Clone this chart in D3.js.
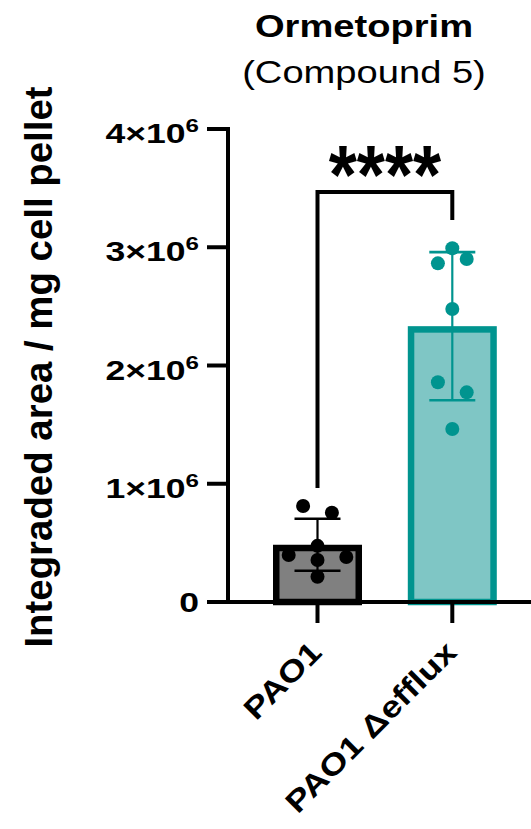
<!DOCTYPE html>
<html>
<head>
<meta charset="utf-8">
<script src="https://cdn.jsdelivr.net/npm/d3@7"></script>
<style>
  html, body { margin: 0; padding: 0; background: #fff; }
  svg { display: block; }
  text { font-family: "Liberation Sans", Arial, Helvetica, sans-serif; fill: #000; }
</style>
</head>
<body>
<svg id="chart" width="531" height="829"></svg>
<script>
// ---- data ----
const groups = ["PAO1", "PAO1 \u0394efflux"];
// integrated area / mg cell pellet, in units of 1e6 (replicates)
const pao1Values = [0.755, 0.812, 0.355, 0.381, 0.397, 0.475, 0.214];
const effluxValues = [2.991, 2.901, 2.864, 2.478, 1.773, 1.858, 1.463];
const yTicks = [0, 1, 2, 3, 4];
const titleLines = ["Ormetoprim", "(Compound 5)"];
const yTitle = "Integraded area / mg cell pellet";
const significance = "****";

// ---- styling ----
const groupStyle = [
  { fill: "#808080", stroke: "#000000" },
  { fill: "#7fc6c5", stroke: "#00948f" }
];
const SX = 1.23;          // horizontal stretch of the lettering
const R = 7;              // dot radius
const SLOT = 14.4;        // horizontal step of the dot swarm
const BAR_W = 89;

const svg = d3.select("#chart");

const y = d3.scaleLinear().domain([0, 4]).range([602, 129]);
const x = d3.scalePoint().domain(groups).range([317.5, 452.3]);
const axisX = 228;

const series = [pao1Values, effluxValues].map((vals, i) => ({
  name: groups[i],
  values: vals,
  mean: d3.mean(vals),
  sd: d3.deviation(vals),
  style: groupStyle[i]
}));

// ---- bars ----
series.forEach(s => {
  const sw = 6.5;
  const cx = x(s.name);
  svg.append("rect")
    .attr("x", cx - BAR_W / 2 + sw / 2)
    .attr("y", y(s.mean) + sw / 2)
    .attr("width", BAR_W - sw)
    .attr("height", y(0) - y(s.mean) - sw / 2)
    .attr("fill", s.style.fill)
    .attr("stroke", s.style.stroke)
    .attr("stroke-width", sw);
});

// ---- error bars (mean ± SD) ----
series.forEach(s => {
  const cx = x(s.name);
  const g = svg.append("g").attr("stroke", s.style.stroke).attr("fill", "none");
  g.append("line").attr("x1", cx).attr("x2", cx)
    .attr("y1", y(s.mean + s.sd)).attr("y2", y(s.mean - s.sd)).attr("stroke-width", 2.2);
  [s.mean + s.sd, s.mean - s.sd].forEach(v => {
    g.append("line").attr("x1", cx - 23).attr("x2", cx + 23)
      .attr("y1", y(v)).attr("y2", y(v)).attr("stroke-width", 2.6);
  });
});

// ---- dot swarm: rows of nearby values spread symmetrically ----
function swarm(values) {
  const idx = values.map((v, i) => i).sort((a, b) => values[a] - values[b]);
  const rows = [];
  idx.forEach(i => {
    const row = rows[rows.length - 1];
    if (row && Math.abs(y(values[row[0]]) - y(values[i])) < 2 * R) row.push(i);
    else rows.push([i]);
  });
  const offsets = new Array(values.length).fill(0);
  rows.forEach(row => {
    row.sort((a, b) => a - b);
    const n = row.length;
    const slots = [];
    if (n % 2 === 1) { slots.push(0); for (let k = 2; slots.length < n; k += 2) slots.push(k, -k); }
    else { for (let k = 1; slots.length < n; k += 2) slots.push(k, -k); }
    row.forEach((i, j) => { offsets[i] = slots[j] * SLOT; });
  });
  return offsets;
}

series.forEach(s => {
  const off = swarm(s.values);
  svg.append("g").selectAll("circle").data(s.values).join("circle")
    .attr("cx", (d, i) => x(s.name) + off[i])
    .attr("cy", d => y(d))
    .attr("r", R)
    .attr("fill", s.style.stroke);
});

// ---- axes ----
const yAxis = svg.append("g").attr("transform", `translate(${axisX},0)`);
yAxis.append("line").attr("x1", 0).attr("x2", 0)
  .attr("y1", y(4) - 2).attr("y2", y(0) + 2).attr("stroke", "#000").attr("stroke-width", 4);
const yt = yAxis.selectAll("g.tick").data(yTicks).join("g")
  .attr("class", "tick").attr("transform", d => `translate(0,${y(d)})`);
yt.append("line").attr("x1", -21).attr("x2", 0).attr("stroke", "#000").attr("stroke-width", 4);
yt.each(function (d) {
  const sx = 1.27;
  const t = d3.select(this).append("text")
    .attr("transform", `scale(${sx},1)`)
    .attr("x", -29 / sx)
    .attr("text-anchor", "end")
    .attr("font-weight", "bold")
    .attr("font-size", 28);
  if (d === 0) {
    t.attr("y", 10).text("0");
  } else {
    t.attr("y", 14);
    t.append("tspan").text(d + "\u00d710");
    t.append("tspan").attr("dy", -11).attr("font-size", 19).text("6");
  }
});

// x axis
svg.append("line").attr("x1", axisX - 21).attr("x2", 531)
  .attr("y1", y(0)).attr("y2", y(0)).attr("stroke", "#000").attr("stroke-width", 4);
groups.forEach(gname => {
  svg.append("line").attr("x1", x(gname)).attr("x2", x(gname))
    .attr("y1", y(0)).attr("y2", y(0) + 21).attr("stroke", "#000").attr("stroke-width", 4);
  svg.append("g")
    .attr("transform", `translate(${x(gname) + 6},${y(0) + 52}) rotate(-45) scale(1.2,1)`)
    .append("text")
    .attr("text-anchor", "end")
    .attr("font-weight", "bold")
    .attr("font-size", 30)
    .text(gname);
});

// ---- y title ----
svg.append("g")
  .attr("transform", `translate(52,367) rotate(-90) scale(0.985,1)`)
  .append("text")
  .attr("text-anchor", "middle")
  .attr("font-weight", "bold")
  .attr("font-size", 39)
  .text(yTitle);

// ---- chart title ----
svg.append("g").attr("transform", `translate(364,37) scale(${SX},1)`)
  .append("text").attr("text-anchor", "middle").attr("font-weight", "bold")
  .attr("font-size", 31).text(titleLines[0]);
svg.append("g").attr("transform", `translate(364,83) scale(${SX},1)`)
  .append("text").attr("text-anchor", "middle")
  .attr("font-size", 31).text(titleLines[1]);

// ---- significance bracket ----
const bx1 = x(groups[0]), bx2 = x(groups[1]);
svg.append("path")
  .attr("d", `M${bx1},488 V192 H${bx2} V220`)
  .attr("fill", "none").attr("stroke", "#000").attr("stroke-width", 4);
svg.append("g").attr("transform", `translate(${(bx1 + bx2) / 2},204) scale(0.86,1)`)
  .append("text").attr("text-anchor", "middle").attr("font-weight", "bold")
  .attr("font-size", 84).text(significance);
</script>
</body>
</html>
